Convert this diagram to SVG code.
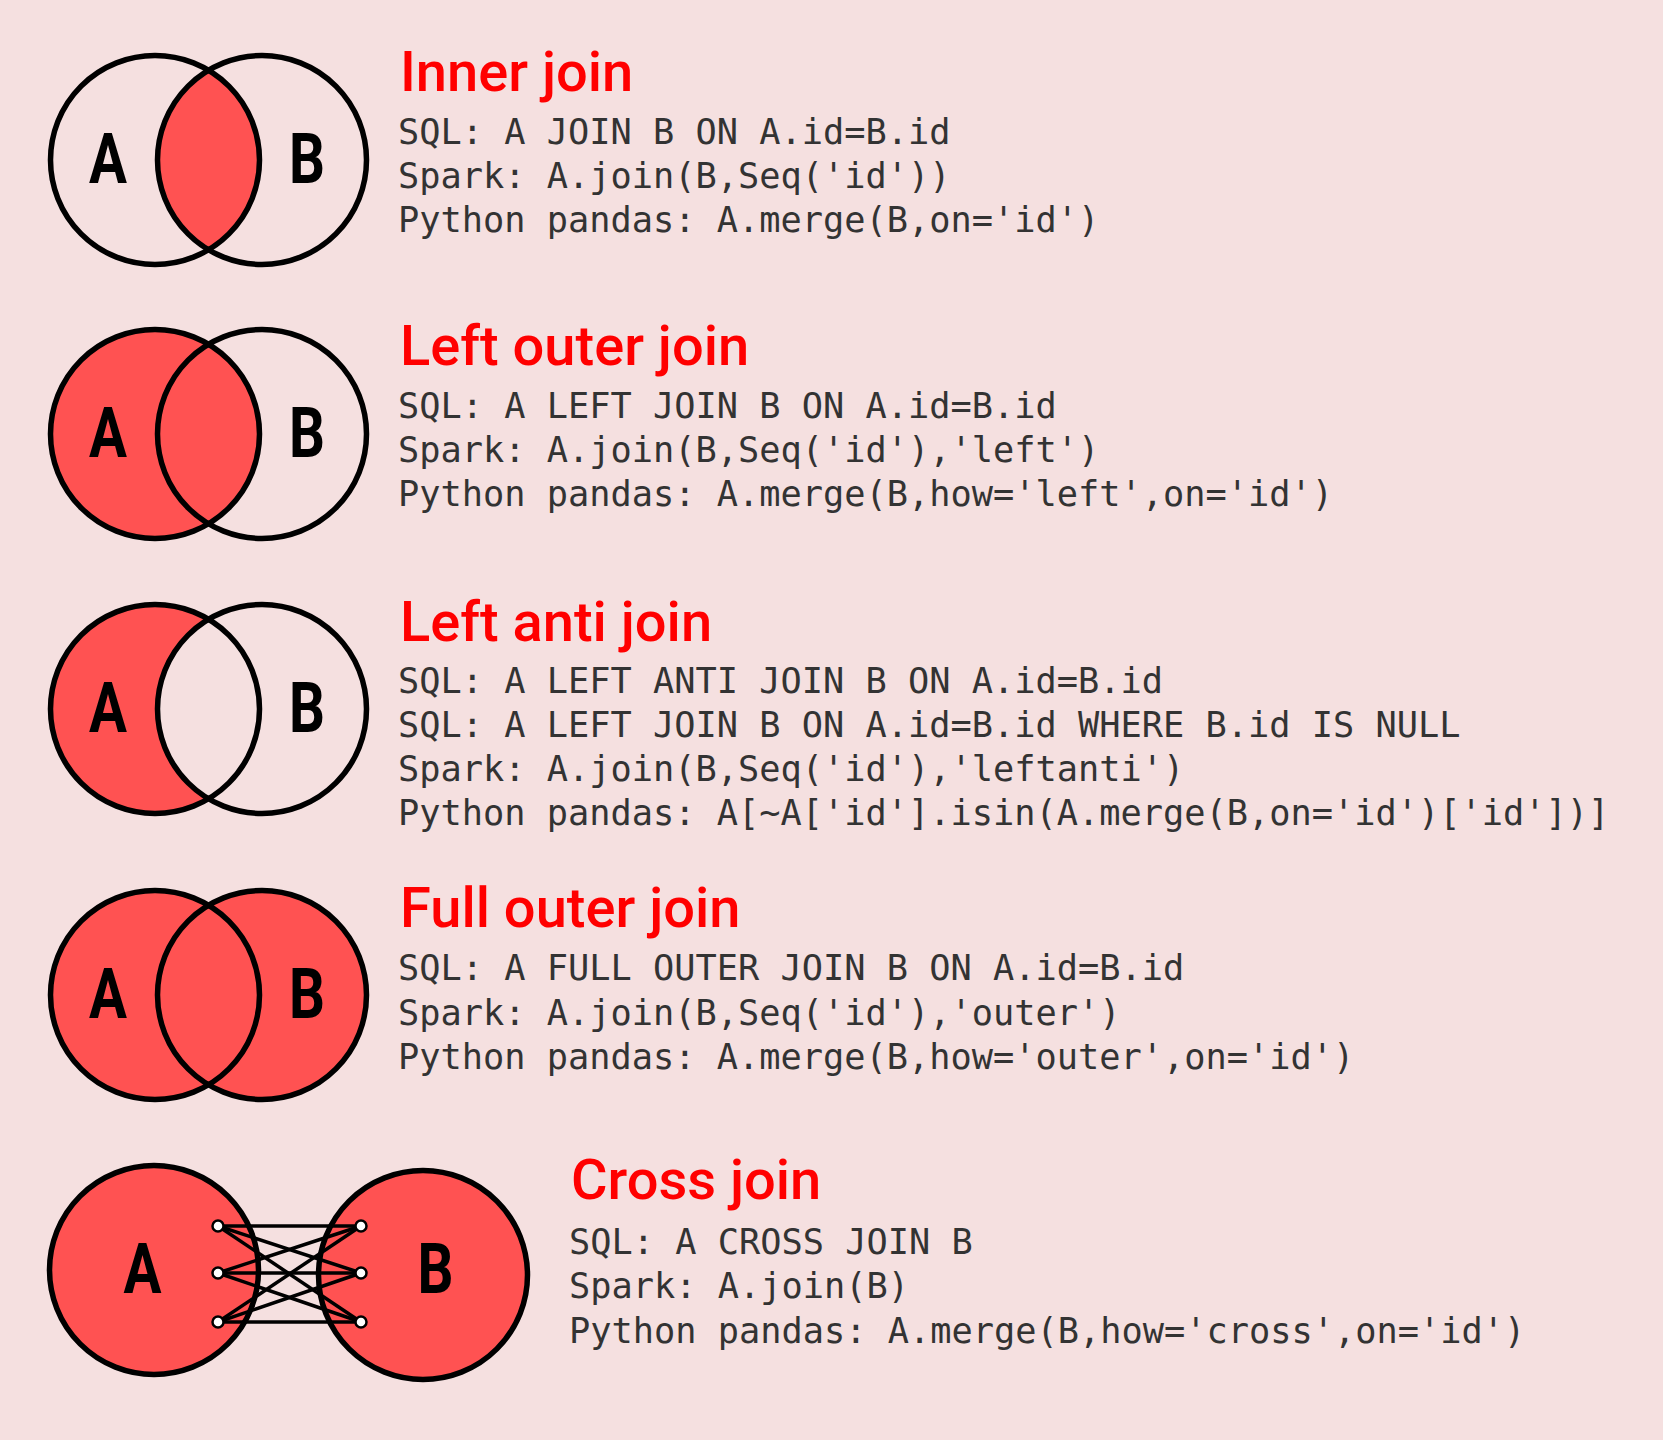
<svg xmlns="http://www.w3.org/2000/svg" width="1663" height="1440" viewBox="0 0 1663 1440">
<style>
.bg{fill:#f5e0e0}
.ring{fill:none;stroke:#000;stroke-width:5.5}
.red{fill:#ff5252}
.hole{fill:#f5e0e0}
.lbl{font-family:Roboto,"Liberation Sans",sans-serif;font-weight:700;font-size:70px;fill:#000;text-anchor:middle}
.title{font-family:Roboto,"Liberation Sans",sans-serif;font-weight:500;font-size:56px;fill:#f00}
.code{font-family:"DejaVu Sans Mono","Liberation Mono",monospace;font-size:35.3px;fill:#333}
.link{stroke:#000;stroke-width:3.5}
.dot{fill:#fff;stroke:#000;stroke-width:2.5}
</style>
<rect class="bg" x="0" y="0" width="1663" height="1440"/>

<g id="inner-join">
  <path class="red" d="M208.5,70 A104.5,104.5 0 0 1 208.5,250 A104.5,104.5 0 0 1 208.5,70 Z"/>
  <circle class="ring" cx="155" cy="160" r="104.5"/>
  <circle class="ring" cx="262" cy="160" r="104.5"/>
  <text class="lbl" x="108" y="183" textLength="38" lengthAdjust="spacingAndGlyphs">A</text>
  <text class="lbl" x="307" y="183" textLength="36" lengthAdjust="spacingAndGlyphs">B</text>
  <text class="title" x="400" y="91">Inner join</text>
  <text class="code" x="398" y="144">SQL: A JOIN B ON A.id=B.id</text>
  <text class="code" x="398" y="188">Spark: A.join(B,Seq('id'))</text>
  <text class="code" x="398" y="232">Python pandas: A.merge(B,on='id')</text>
</g>

<g id="left-outer-join">
  <circle class="red" cx="155" cy="434" r="104.5"/>
  <circle class="ring" cx="155" cy="434" r="104.5"/>
  <circle class="ring" cx="262" cy="434" r="104.5"/>
  <text class="lbl" x="108" y="457" textLength="38" lengthAdjust="spacingAndGlyphs">A</text>
  <text class="lbl" x="307" y="457" textLength="36" lengthAdjust="spacingAndGlyphs">B</text>
  <text class="title" x="400" y="365">Left outer join</text>
  <text class="code" x="398" y="418">SQL: A LEFT JOIN B ON A.id=B.id</text>
  <text class="code" x="398" y="462">Spark: A.join(B,Seq('id'),'left')</text>
  <text class="code" x="398" y="506">Python pandas: A.merge(B,how='left',on='id')</text>
</g>

<g id="left-anti-join">
  <circle class="red" cx="155" cy="709" r="104.5"/>
  <path class="hole" d="M208.5,619 A104.5,104.5 0 0 1 208.5,799 A104.5,104.5 0 0 1 208.5,619 Z"/>
  <circle class="ring" cx="155" cy="709" r="104.5"/>
  <circle class="ring" cx="262" cy="709" r="104.5"/>
  <text class="lbl" x="108" y="732" textLength="38" lengthAdjust="spacingAndGlyphs">A</text>
  <text class="lbl" x="307" y="732" textLength="36" lengthAdjust="spacingAndGlyphs">B</text>
  <text class="title" x="400" y="641">Left anti join</text>
  <text class="code" x="398" y="693">SQL: A LEFT ANTI JOIN B ON A.id=B.id</text>
  <text class="code" x="398" y="737">SQL: A LEFT JOIN B ON A.id=B.id WHERE B.id IS NULL</text>
  <text class="code" x="398" y="781">Spark: A.join(B,Seq('id'),'leftanti')</text>
  <text class="code" x="398" y="825">Python pandas: A[~A['id'].isin(A.merge(B,on='id')['id'])]</text>
</g>

<g id="full-outer-join">
  <circle class="red" cx="155" cy="995" r="104.5"/>
  <circle class="red" cx="262" cy="995" r="104.5"/>
  <circle class="ring" cx="155" cy="995" r="104.5"/>
  <circle class="ring" cx="262" cy="995" r="104.5"/>
  <text class="lbl" x="108" y="1018" textLength="38" lengthAdjust="spacingAndGlyphs">A</text>
  <text class="lbl" x="307" y="1018" textLength="36" lengthAdjust="spacingAndGlyphs">B</text>
  <text class="title" x="400" y="927">Full outer join</text>
  <text class="code" x="398" y="980">SQL: A FULL OUTER JOIN B ON A.id=B.id</text>
  <text class="code" x="398" y="1025">Spark: A.join(B,Seq('id'),'outer')</text>
  <text class="code" x="398" y="1069">Python pandas: A.merge(B,how='outer',on='id')</text>
</g>

<g id="cross-join">
  <circle class="red" cx="154" cy="1270" r="104.5"/>
  <circle class="ring" cx="154" cy="1270" r="104.5"/>
  <circle class="red" cx="423" cy="1275" r="104.5"/>
  <circle class="ring" cx="423" cy="1275" r="104.5"/>
  <text class="lbl" x="142.5" y="1293" textLength="38" lengthAdjust="spacingAndGlyphs">A</text>
  <text class="lbl" x="435.5" y="1293" textLength="36" lengthAdjust="spacingAndGlyphs">B</text>
  <text class="title" x="571" y="1199">Cross join</text>
  <text class="code" x="569" y="1254">SQL: A CROSS JOIN B</text>
  <text class="code" x="569" y="1298">Spark: A.join(B)</text>
  <text class="code" x="569" y="1343">Python pandas: A.merge(B,how='cross',on='id')</text>
</g>

<g id="connectors">
  <line class="link" x1="218" y1="1226" x2="361" y2="1226"/>
  <line class="link" x1="218" y1="1226" x2="361" y2="1273"/>
  <line class="link" x1="218" y1="1226" x2="361" y2="1322"/>
  <line class="link" x1="218" y1="1273" x2="361" y2="1226"/>
  <line class="link" x1="218" y1="1273" x2="361" y2="1273"/>
  <line class="link" x1="218" y1="1273" x2="361" y2="1322"/>
  <line class="link" x1="218" y1="1322" x2="361" y2="1226"/>
  <line class="link" x1="218" y1="1322" x2="361" y2="1273"/>
  <line class="link" x1="218" y1="1322" x2="361" y2="1322"/>
  <circle class="dot" cx="218" cy="1226" r="5.5"/>
  <circle class="dot" cx="218" cy="1273" r="5.5"/>
  <circle class="dot" cx="218" cy="1322" r="5.5"/>
  <circle class="dot" cx="361" cy="1226" r="5.5"/>
  <circle class="dot" cx="361" cy="1273" r="5.5"/>
  <circle class="dot" cx="361" cy="1322" r="5.5"/>
</g>
</svg>
